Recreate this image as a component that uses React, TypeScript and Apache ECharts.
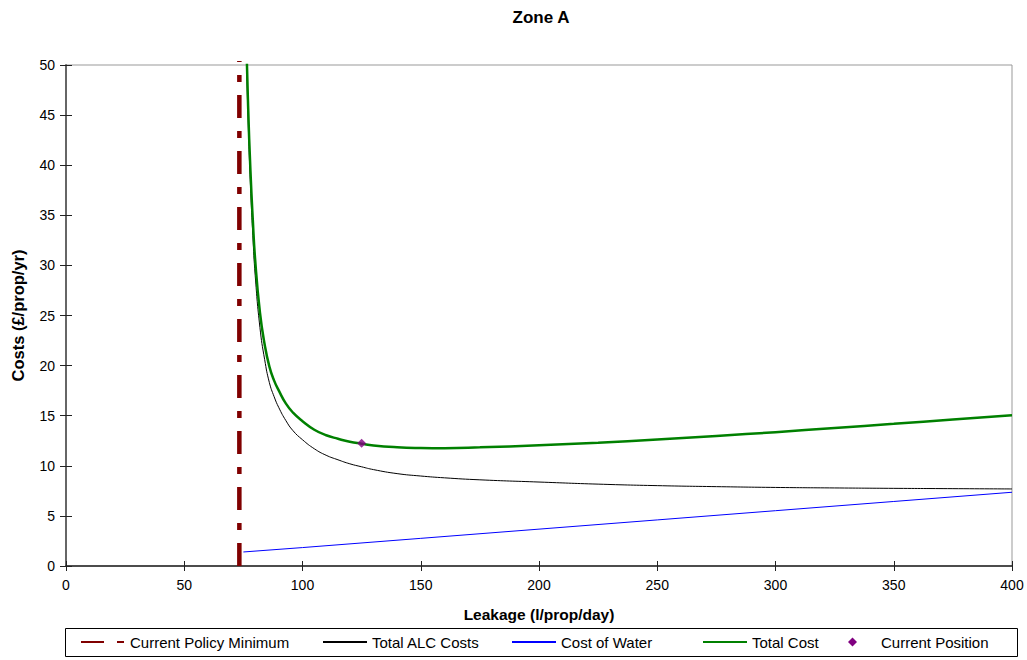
import React, { useEffect, useRef } from "react";
import * as echarts from "echarts";

const FONT = "'Liberation Sans', Arial, sans-serif";

const leakage = [76, 77, 78, 79, 80, 82, 84, 86, 88, 90, 93, 96, 100, 105, 110, 115, 120, 125, 130, 140, 150, 160, 175, 200, 225, 250, 275, 300, 325, 350, 375, 400];
const alcCosts = [53, 44.5, 38, 33, 29, 23.8, 20.6, 18.3, 16.9, 15.8, 14.5, 13.5, 12.6, 11.7, 11.05, 10.6, 10.2, 9.9, 9.62, 9.22, 8.98, 8.8, 8.6, 8.38, 8.17, 8.02, 7.92, 7.84, 7.79, 7.75, 7.72, 7.69];
const totalCost = [54.4, 45.9, 39.4, 34.5, 30.5, 25.3, 22.1, 19.9, 18.5, 17.5, 16.2, 15.3, 14.45, 13.6, 13.05, 12.7, 12.4, 12.2, 12.02, 11.85, 11.78, 11.76, 11.84, 12.05, 12.3, 12.62, 12.98, 13.36, 13.77, 14.19, 14.62, 15.05];

const waterLeakage = [75, 100, 150, 200, 250, 300, 350, 400];
const waterCost = [1.4, 1.84, 2.76, 3.68, 4.6, 5.52, 6.44, 7.36];

const policyMinimum = 73.3;
const policyRange = [0, 50.4];

const currentPosition = [125, 12.25];

const xTicks = { min: 0, max: 400, interval: 50 };
const yTicks = { min: 0, max: 50, interval: 5 };

const seriesNames = ["Current Policy Minimum", "Total ALC Costs", "Cost of Water", "Total Cost", "Current Position"];

export default function App() {
  const ref = useRef<HTMLDivElement>(null);
  useEffect(() => {
    document.body.style.margin = "0";
    const chart = echarts.init(ref.current!, null, { renderer: "svg" });
    const pair = (xs: number[], ys: number[]) => xs.map((x, i) => [x, ys[i]]);
    const legendBase = (name: string, left: number, extra: any = {}) => ({
      data: [name],
      left,
      top: 634,
      padding: 0,
      itemWidth: 44,
      itemHeight: 16,
      selectedMode: false,
      itemStyle: { opacity: 0 },
      textStyle: { fontSize: 15, color: "#000", fontFamily: FONT, lineHeight: 16 },
      ...extra,
    });
    const option: any = {
      animation: false,
      textStyle: { fontFamily: FONT },
      grid: { left: 66, right: 15, top: 65, bottom: 94, show: true, borderColor: "#999", borderWidth: 1, backgroundColor: "transparent" },
      graphic: [
        { type: "text", x: 541, y: 17, style: { text: "Zone A", fontSize: 17, fontWeight: "bold", fontFamily: FONT, fill: "#000", align: "center", verticalAlign: "middle" } },
        { type: "rect", shape: { x: 65.5, y: 628.5, width: 952, height: 28 }, style: { fill: "none", stroke: "#000", lineWidth: 1 } },
      ],
      legend: [
        legendBase(seriesNames[0], 80),
        legendBase(seriesNames[1], 322),
        legendBase(seriesNames[2], 511),
        legendBase(seriesNames[3], 702),
        legendBase(seriesNames[4], 848, {
          itemWidth: 9, itemHeight: 9,
          itemStyle: { opacity: 1 },
          textStyle: { fontSize: 15, color: "#000", fontFamily: FONT, lineHeight: 16, padding: [0, 0, 0, 19] },
        }),
      ],
      xAxis: [
        {
          type: "value", ...xTicks,
          name: "Leakage (l/prop/day)", nameLocation: "middle", nameGap: 40,
          nameTextStyle: { fontSize: 15.5, fontWeight: "bold", color: "#000", fontFamily: FONT },
          axisLine: { show: true, lineStyle: { color: "#222", width: 1.5 } },
          axisTick: { show: true, inside: false, length: 5, lineStyle: { color: "#222" } },
          axisLabel: { fontSize: 14, color: "#000", margin: 12, fontFamily: FONT },
          splitLine: { show: false },
        },
        {
          type: "value", ...xTicks, position: "bottom",
          axisLine: { show: false },
          axisTick: { show: true, inside: true, length: 5, lineStyle: { color: "#222" } },
          axisLabel: { show: false },
          splitLine: { show: false },
        },
      ],
      yAxis: [
        {
          type: "value", ...yTicks,
          name: "Costs (£/prop/yr)", nameLocation: "middle", nameGap: 40,
          nameTextStyle: { fontSize: 16.5, fontWeight: "bold", color: "#000", fontFamily: FONT },
          axisLine: { show: true, lineStyle: { color: "#666", width: 2 } },
          axisTick: { show: true, inside: false, length: 6, lineStyle: { color: "#222" } },
          axisLabel: { fontSize: 14, color: "#000", margin: 11, fontFamily: FONT },
          splitLine: { show: false },
        },
        {
          type: "value", ...yTicks, position: "left",
          axisLine: { show: false },
          axisTick: { show: true, inside: true, length: 6, lineStyle: { color: "#222" } },
          axisLabel: { show: false },
          splitLine: { show: false },
        },
      ],
      series: [
        {
          name: seriesNames[0], type: "line", clip: false, symbol: "none",
          data: policyRange.map((y) => [policyMinimum, y]),
          lineStyle: { color: "#800000", width: 4.5, type: [23, 13, 7, 13] },
          itemStyle: { color: "#800000" },
          z: 1,
        },
        {
          name: seriesNames[1], type: "line", symbol: "none", smooth: 0.5,
          data: pair(leakage, alcCosts),
          lineStyle: { color: "#000", width: 1 },
          itemStyle: { color: "#000" },
          z: 2,
        },
        {
          name: seriesNames[2], type: "line", symbol: "none",
          data: pair(waterLeakage, waterCost),
          lineStyle: { color: "#0000ff", width: 1 },
          itemStyle: { color: "#0000ff" },
          z: 2,
        },
        {
          name: seriesNames[3], type: "line", symbol: "none", smooth: 0.5,
          data: pair(leakage, totalCost),
          lineStyle: { color: "#008000", width: 2.5 },
          itemStyle: { color: "#008000" },
          z: 3,
        },
        {
          name: seriesNames[4], type: "scatter", symbol: "diamond", symbolSize: 9,
          data: [currentPosition],
          itemStyle: { color: "#800080" },
          z: 4,
        },
      ],
    };
    chart.setOption(option);
    return () => chart.dispose();
  }, []);
  return <div ref={ref} style={{ width: 1027, height: 660 }} />;
}
